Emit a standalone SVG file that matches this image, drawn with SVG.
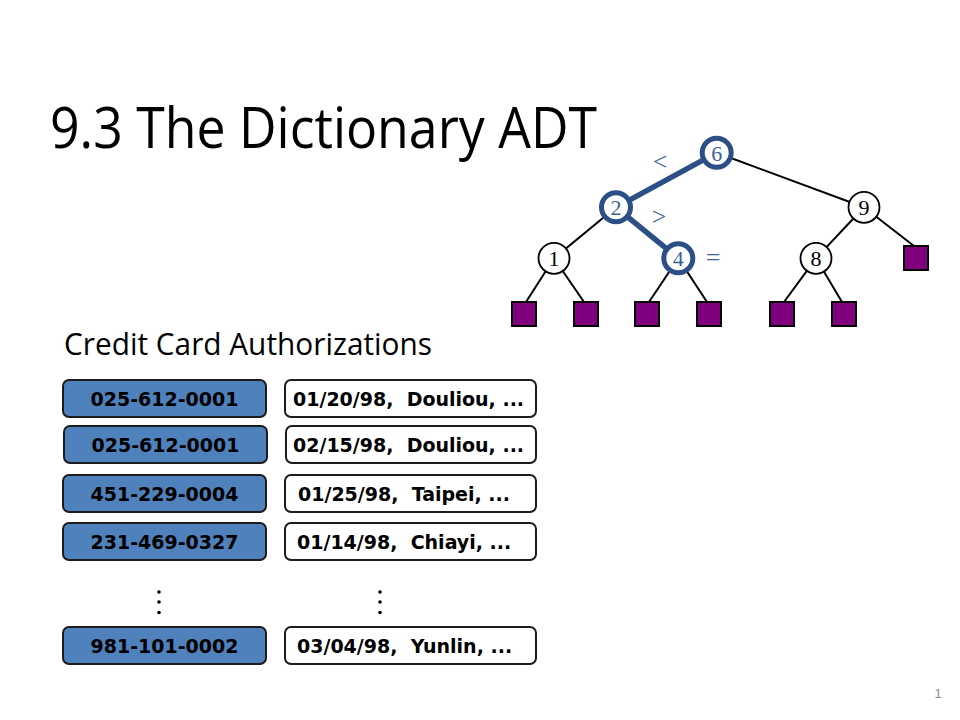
<svg xmlns="http://www.w3.org/2000/svg" width="960" height="720" viewBox="0 0 960 720">
<style>
.title{font-family:"Open Sans","Liberation Sans",sans-serif;fill:#000}
.key{fill:#4f81bd;stroke:#1c1c1c;stroke-width:2}
.val{fill:#fff;stroke:#1c1c1c;stroke-width:2}
.bt{font-family:"DejaVu Sans",sans-serif;font-weight:bold;font-size:19px;fill:#000;white-space:pre}
.edge{stroke:#000;stroke-width:2;fill:none}
.path{stroke:#2b4f86;stroke-width:5.5;fill:none}
.nd{fill:#fff;stroke:#000;stroke-width:1.8}
.ndh{fill:#fff;stroke:#2b4f86;stroke-width:5}
.leaf{fill:#800080;stroke:#000;stroke-width:2}
.nt{font-family:"Liberation Serif",serif;font-size:22px;text-anchor:middle;fill:#000}
.nth{font-family:"Liberation Serif",serif;font-size:22px;text-anchor:middle;fill:#3d5f94}
.op{font-family:"Liberation Serif",serif;font-size:26px;text-anchor:middle;fill:#3d5f94}
</style>
<rect width="960" height="720" fill="#fff"/>
<text class="title" x="50" y="148" font-size="57" textLength="547" lengthAdjust="spacingAndGlyphs">9.3 The Dictionary ADT</text>
<text class="title" x="64" y="355" font-size="31" textLength="368" lengthAdjust="spacingAndGlyphs">Credit Card Authorizations</text>

<g id="connectors">
<line class="edge" x1="716.7" y1="152.7" x2="864" y2="207.3"/>
<line class="edge" x1="616" y1="207.3" x2="554" y2="258.3"/>
<line class="edge" x1="554" y1="258.3" x2="526" y2="302"/>
<line class="edge" x1="554" y1="258.3" x2="584" y2="302"/>
<line class="edge" x1="678.3" y1="258.3" x2="649" y2="302"/>
<line class="edge" x1="678.3" y1="258.3" x2="707" y2="302"/>
<line class="edge" x1="864" y1="207.3" x2="816" y2="258.3"/>
<line class="edge" x1="864" y1="207.3" x2="914" y2="246"/>
<line class="edge" x1="816" y1="258.3" x2="784" y2="302"/>
<line class="edge" x1="816" y1="258.3" x2="842" y2="302"/>
<line class="path" x1="716.7" y1="152.7" x2="616" y2="207.3"/>
<line class="path" x1="616" y1="207.3" x2="678.3" y2="258.3"/>
</g>

<g id="node6"><circle class="ndh" cx="716.7" cy="152.7" r="14.5"/><text class="nth" x="716.7" y="160.5">6</text></g>
<g id="node2"><circle class="ndh" cx="616" cy="207.3" r="14.5"/><text class="nth" x="616" y="215">2</text></g>
<g id="node4"><circle class="ndh" cx="678.3" cy="258.3" r="14.5"/><text class="nth" x="678.3" y="266">4</text></g>
<g id="node9"><circle class="nd" cx="864" cy="207.3" r="15.5"/><text class="nt" x="864" y="215">9</text></g>
<g id="node1"><circle class="nd" cx="554" cy="258.3" r="15.5"/><text class="nt" x="554" y="266">1</text></g>
<g id="node8"><circle class="nd" cx="816" cy="258.3" r="15.5"/><text class="nt" x="816" y="266">8</text></g>
<g id="leaves">
<rect class="leaf" x="512" y="302" width="24" height="24"/>
<rect class="leaf" x="574" y="302" width="24" height="24"/>
<rect class="leaf" x="635" y="302" width="24" height="24"/>
<rect class="leaf" x="697" y="302" width="24" height="24"/>
<rect class="leaf" x="770" y="302" width="24" height="24"/>
<rect class="leaf" x="832" y="302" width="24" height="24"/>
<rect class="leaf" x="904" y="246" width="24" height="24"/>
</g>
<g id="ops">
<text class="op" x="660" y="170">&lt;</text>
<text class="op" x="659" y="225">&gt;</text>
<text class="op" x="713" y="266">=</text>
</g>

<g id="row1">
<rect class="key" x="63" y="380" width="203" height="37" rx="6"/>
<text class="bt" x="164.5" y="406" text-anchor="middle">025-612-0001</text>
<rect class="val" x="285" y="380" width="251" height="37" rx="6"/>
<text class="bt" x="293" y="406" xml:space="preserve">01/20/98,  Douliou, ...</text>
</g>
<g id="row2">
<rect class="key" x="64" y="426" width="203" height="37" rx="6"/>
<text class="bt" x="165.5" y="452" text-anchor="middle">025-612-0001</text>
<rect class="val" x="286" y="426" width="250" height="37" rx="6"/>
<text class="bt" x="293" y="452" xml:space="preserve">02/15/98,  Douliou, ...</text>
</g>
<g id="row3">
<rect class="key" x="63" y="475" width="203" height="37" rx="6"/>
<text class="bt" x="164.5" y="501" text-anchor="middle">451-229-0004</text>
<rect class="val" x="285" y="475" width="251" height="37" rx="6"/>
<text class="bt" x="298" y="501" xml:space="preserve">01/25/98,  Taipei, ...</text>
</g>
<g id="row4">
<rect class="key" x="63" y="523" width="203" height="37" rx="6"/>
<text class="bt" x="164.5" y="549" text-anchor="middle">231-469-0327</text>
<rect class="val" x="285" y="523" width="251" height="37" rx="6"/>
<text class="bt" x="297" y="549" xml:space="preserve">01/14/98,  Chiayi, ...</text>
</g>
<g id="dots">
<circle cx="159" cy="592" r="1.8"/><circle cx="159" cy="602" r="1.8"/><circle cx="159" cy="612.5" r="1.8"/>
<circle cx="380" cy="592" r="1.8"/><circle cx="380" cy="602" r="1.8"/><circle cx="380" cy="612.5" r="1.8"/>
</g>
<g id="row5">
<rect class="key" x="63" y="627" width="203" height="37" rx="6"/>
<text class="bt" x="164.5" y="653" text-anchor="middle">981-101-0002</text>
<rect class="val" x="285" y="627" width="251" height="37" rx="6"/>
<text class="bt" x="297" y="653" xml:space="preserve">03/04/98,  Yunlin, ...</text>
</g>
<text x="938" y="698" font-family="Liberation Sans,sans-serif" font-size="13" fill="#8c8c8c" text-anchor="middle">1</text>
</svg>
